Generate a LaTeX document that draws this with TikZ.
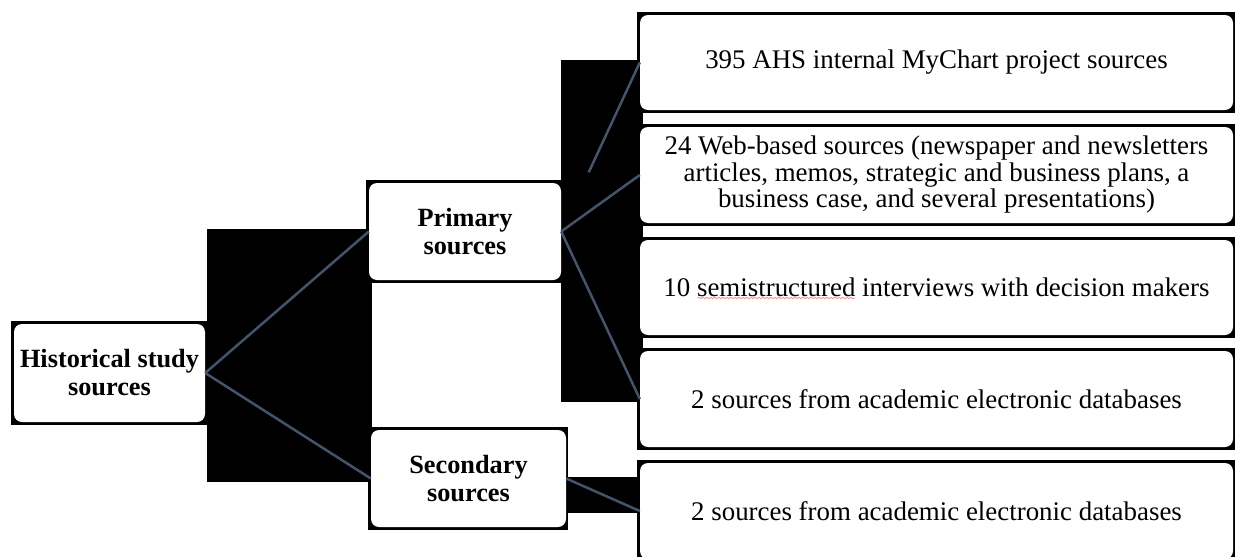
\documentclass[tikz,border=0pt]{standalone}
\usepackage{fontspec}
\setmainfont{Liberation Serif}
\usetikzlibrary{calc,decorations.pathmorphing}
\definecolor{linkc}{HTML}{44546A}
\begin{document}
\begin{tikzpicture}[x=1pt,y=-1pt,
  boxnode/.style={rectangle, rounded corners=8pt, fill=white, inner sep=0pt, align=center},
  regtext/.style={font=\fontsize{26.9}{26.5}\selectfont},
  boldtext/.style={font=\fontsize{26.3}{28}\selectfont\bfseries},
  link/.style={draw=linkc, line width=2.5pt},
  blk/.style={fill=black},
  squiggle/.style={draw=red!45, line width=0.8pt, decorate, decoration={snake, amplitude=0.7pt, segment length=4pt}}]
\useasboundingbox (0,0) rectangle (1235,557);
% black background patches
\fill[blk] (207,229) rectangle (372,482);
\fill[blk] (561,60) rectangle (643,402);
\fill[blk] (565,477) rectangle (640,513);
% black frames behind boxes
\fill[blk] (11,321) rectangle (207,425);
\fill[blk] (366,180) rectangle (563,283);
\fill[blk] (368,427) rectangle (568,530);
\fill[blk] (637,12) rectangle (1235,113);
\fill[blk] (637,124) rectangle (1235,226);
\fill[blk] (637,237) rectangle (1235,338);
\fill[blk] (637,348) rectangle (1235,450);
\fill[blk] (637,460) rectangle (1235,562);
% boxes
\node[boxnode, boldtext, minimum width=191pt, minimum height=98pt] (hist) at (109.5,373) {Historical study\\sources};
\node[boxnode, boldtext, minimum width=192pt, minimum height=97pt] (prim) at (465,231.5) {Primary\\sources};
\node[boxnode, boldtext, minimum width=195pt, minimum height=97pt] (sec) at (468.5,478.5) {Secondary\\sources};
\node[boxnode, regtext, minimum width=593pt, minimum height=95pt] (r1) at (936.5,62.5) {395 AHS internal MyChart project sources};
\node[boxnode, regtext, minimum width=593pt, minimum height=96pt] (r2) at (936.5,175) {24 Web-based sources (newspaper and newsletters\\articles, memos, strategic and business plans, a\\business case, and several presentations)};
\node[boxnode, regtext, minimum width=593pt, minimum height=95pt] (r3) at (936.5,287.5) {10 semistructured interviews with decision makers};
\node[boxnode, regtext, minimum width=593pt, minimum height=96pt] (r4) at (936.5,399) {2 sources from academic electronic databases};
\node[boxnode, regtext, minimum width=593pt, minimum height=96pt] (r5) at (936.5,511) {2 sources from academic electronic databases};
% connectors
\draw[link] (hist.east) -- (prim.west);
\draw[link] (hist.east) -- (sec.west);
\draw[link] ($(prim.east)!0.35!(r1.west)$) -- (r1.west);
\draw[link] (prim.east) -- (r2.west);
\draw[link] (prim.east) -- (r4.west);
\draw[link] (sec.east) -- (r5.west);
% spell-check underline
\draw[squiggle] ($(r3.center)+(-239,10.5)$) -- ++(158,0);
\end{tikzpicture}
\end{document}
